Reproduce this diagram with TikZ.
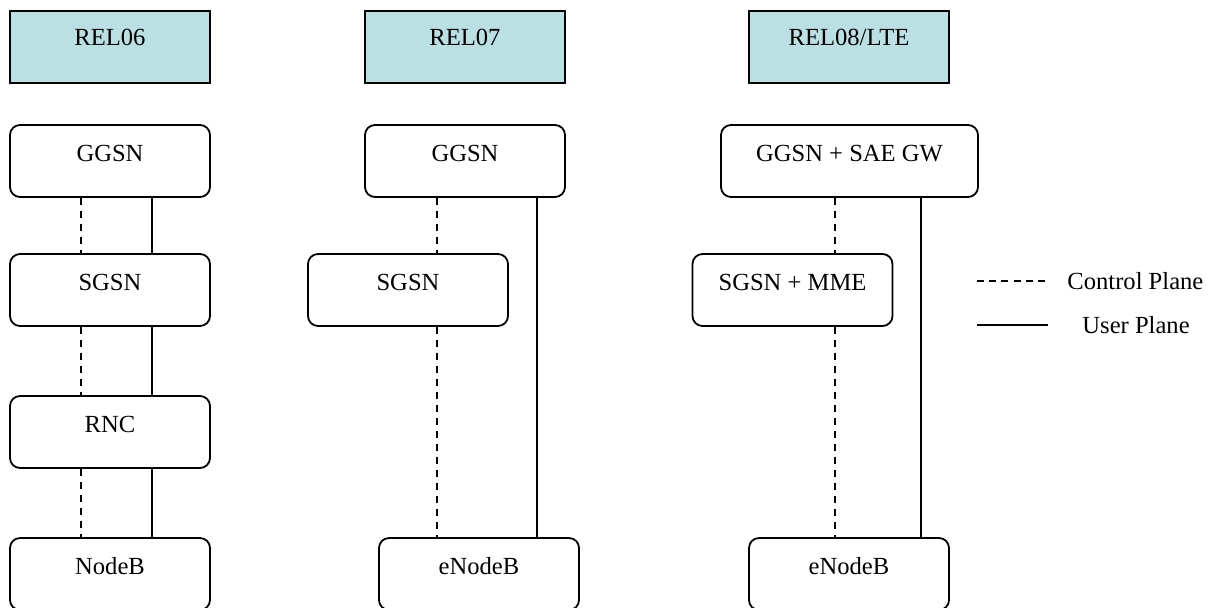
\documentclass[tikz,border=0pt]{standalone}
\usepackage{fontspec}
\setmainfont{Liberation Serif}
\definecolor{relfill}{HTML}{BBE0E3}
\tikzset{
  relbox/.style={draw, line width=1.1pt, fill=relfill, minimum width=100pt, minimum height=36pt,
    inner sep=0pt, text height=8pt, text depth=10pt, font=\fontsize{12.3}{14}\selectfont},
  netbox/.style={draw, line width=0.9pt, rounded corners=5pt, minimum width=100pt, minimum height=36pt,
    inner sep=0pt, text height=8pt, text depth=8pt, font=\fontsize{12.3}{14}\selectfont},
  cpline/.style={line width=0.75pt, dash pattern=on 3.5pt off 3pt},
  upline/.style={line width=0.75pt},
  legtext/.style={font=\fontsize{12.3}{14}\selectfont, inner sep=0pt}
}
\begin{document}
\begin{tikzpicture}[x=0.5pt, y=-0.5pt]
      \useasboundingbox (0,0) rectangle (1213,607);
      % HEADERS
      \node[relbox] (rel06) at (110,47) {REL06};
      \node[relbox] (rel07) at (465,47) {REL07};
      \node[relbox] (rel08) at (849,47) {REL08/LTE};
      % REL06 COLUMN
      \node[netbox] (ggsn6) at (110,161) {GGSN};
      \node[netbox] (sgsn6) at (110,290) {SGSN};
      \node[netbox] (rnc6) at (110,432) {RNC};
      \node[netbox] (nodeb6) at (110,574) {NodeB};
      % -- control plane
      \draw[cpline] ([xshift=-14.5pt]ggsn6.south) coordinate (c6) -- (c6 |- sgsn6.north);
      \draw[cpline] (c6 |- sgsn6.south) -- (c6 |- rnc6.north);
      \draw[cpline] (c6 |- rnc6.south) -- (c6 |- nodeb6.north);
      % -- user plane
      \draw[upline] ([xshift=21pt]ggsn6.south) coordinate (u6) -- (u6 |- sgsn6.north);
      \draw[upline] (u6 |- sgsn6.south) -- (u6 |- rnc6.north);
      \draw[upline] (u6 |- rnc6.south) -- (u6 |- nodeb6.north);
      % REL07 COLUMN
      \node[netbox] (ggsn7) at (465,161) {GGSN};
      \node[netbox] (sgsn7) at (408,290) {SGSN};
      \node[netbox] (enb7) at (479,574) {eNodeB};
      % -- control plane
      \draw[cpline] ([xshift=-14pt]ggsn7.south) coordinate (c7) -- (c7 |- sgsn7.north);
      \draw[cpline] (c7 |- sgsn7.south) -- (c7 |- enb7.north);
      % -- user plane
      \draw[upline] ([xshift=36pt]ggsn7.south) coordinate (u7) -- (u7 |- enb7.north);
      % REL08 COLUMN
      \node[netbox, minimum width=128.5pt] (ggsn8) at (849.5,161) {GGSN + SAE GW};
      \node[netbox] (mme8) at (792.5,290) {SGSN + MME};
      \node[netbox] (enb8) at (849,574) {eNodeB};
      % -- control plane
      \draw[cpline] ([xshift=-7.25pt]ggsn8.south) coordinate (c8) -- (c8 |- mme8.north);
      \draw[cpline] (c8 |- mme8.south) -- (c8 |- enb8.north);
      % -- user plane
      \draw[upline] ([xshift=35.75pt]ggsn8.south) coordinate (u8) -- (u8 |- enb8.north);
      % LEGEND
      \coordinate (cpa) at (977,281);
      \coordinate (cpb) at (1048,281);
      \coordinate (upa) at (977,325);
      \coordinate (upb) at (1048,325);
      \draw[cpline, dash pattern=on 3.5pt off 2.6pt] (cpa) -- (cpb);
      \draw[upline] (upa) -- (upb);
      \node[legtext, anchor=west] (cptext) at (1067,281) {Control Plane};
      \node[legtext, anchor=west] (uptext) at (1082,325) {User Plane};
\end{tikzpicture}
\end{document}
